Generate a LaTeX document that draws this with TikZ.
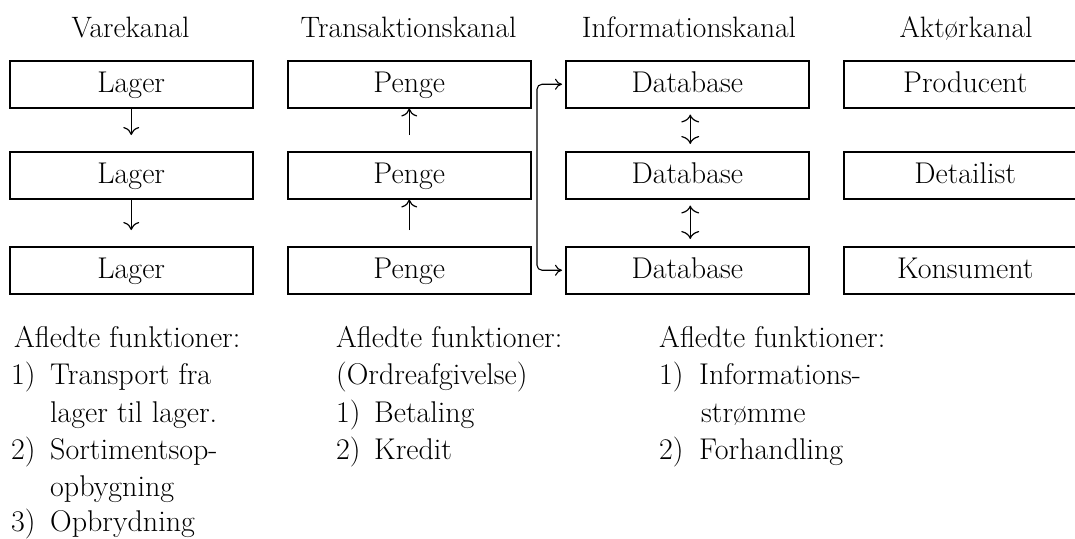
\documentclass[tikz,border=0pt]{standalone}
\usepackage{fontspec}
\usetikzlibrary{arrows.meta}
\begin{document}
\begin{tikzpicture}[x=1pt,y=-1pt,
  box/.style={draw=black, line width=1.5pt, minimum width=243pt, minimum height=47pt,
    inner sep=0pt, anchor=north west, text height=19pt, text depth=3pt,
    font=\fontsize{30}{34}\selectfont},
  hdr/.style={anchor=base, inner sep=0pt, font=\fontsize{29.5}{34}\selectfont},
  txt/.style={anchor=base west, inner sep=0pt, font=\fontsize{30}{36}\selectfont},
  arr/.style={line width=1.2pt, -{To[length=8pt,width=16pt]}},
  dbl/.style={line width=1.2pt, {To[length=8pt,width=18pt]}-{To[length=8pt,width=18pt]}},
  conn/.style={line width=1.1pt, rounded corners=5pt, {To[length=7pt,width=11pt]}-{To[length=7pt,width=11pt]}}
]
\useasboundingbox (0,0) rectangle (1075,538);
\clip (0,0) rectangle (1075,538);

% headers
\node[hdr] (h1) at (130.5,37) {Varekanal};
\node[hdr] (h2) at (408.5,37) {Transaktionskanal};
\node[hdr] (h3) at (689,37) {Informationskanal};
\node[hdr] (h4) at (966,37) {Aktørkanal};

% boxes
\node[box] (v1) at (9,60) {Lager};
\node[box] (v2) at (9,151) {Lager};
\node[box] (v3) at (9,246) {Lager};
\node[box] (t1) at (287,60) {Penge};
\node[box] (t2) at (287,151) {Penge};
\node[box] (t3) at (287,246) {Penge};
\node[box] (i1) at (565,60) {Database};
\node[box] (i2) at (565,151) {Database};
\node[box] (i3) at (565,246) {Database};
\node[box] (a1) at (843,60) {Producent};
\node[box] (a2) at (843,151) {Detailist};
\node[box] (a3) at (843,246) {Konsument};

% arrows
\draw[arr, shorten >=16pt] (v1) -- (v2);
\draw[arr, shorten >=16pt] (v2) -- (v3);
\draw[arr, shorten <=16pt] (t2) -- (t1);
\draw[arr, shorten <=16pt] (t3) -- (t2);
\draw[dbl, shorten <=6pt, shorten >=7pt] ([xshift=3pt]i1.south) -- ([xshift=3pt]i2.north);
\draw[dbl, shorten <=6pt, shorten >=7pt] ([xshift=3pt]i2.south) -- ([xshift=3pt]i3.north);

\coordinate (br) at (537,176);
\draw[conn, shorten <=3pt, shorten >=3pt] (i1.west) -| (br) |- (i3.west);

% derived functions
\node[txt] (f1) at (14,347) {Afledte funktioner:};
\node[txt] (f1n1) at (11,384) {1)};
\node[txt] (f1t1) at (50,384) {Transport fra};
\node[txt] (f1t1b) at (50,422) {lager til lager.};
\node[txt] (f1n2) at (11,459) {2)};
\node[txt] (f1t2) at (50,459) {Sortimentsop-};
\node[txt] (f1t2b) at (50,496) {opbygning};
\node[txt] (f1n3) at (11,531) {3)};
\node[txt] (f1t3) at (50,531) {Opbrydning};

\node[txt] (f2) at (336,347) {Afledte funktioner:};
\node[txt] (f2o) at (336,384) {(Ordreafgivelse)};
\node[txt] (f2n1) at (336,422) {1)};
\node[txt] (f2t1) at (374,422) {Betaling};
\node[txt] (f2n2) at (336,459) {2)};
\node[txt] (f2t2) at (374,459) {Kredit};

\node[txt] (f3) at (659,347) {Afledte funktioner:};
\node[txt] (f3n1) at (659,384) {1)};
\node[txt] (f3t1) at (699,384) {Informations-};
\node[txt] (f3t1b) at (701,422) {strømme};
\node[txt] (f3n2) at (659,459) {2)};
\node[txt] (f3t2) at (699,459) {Forhandling};
\end{tikzpicture}
\end{document}
